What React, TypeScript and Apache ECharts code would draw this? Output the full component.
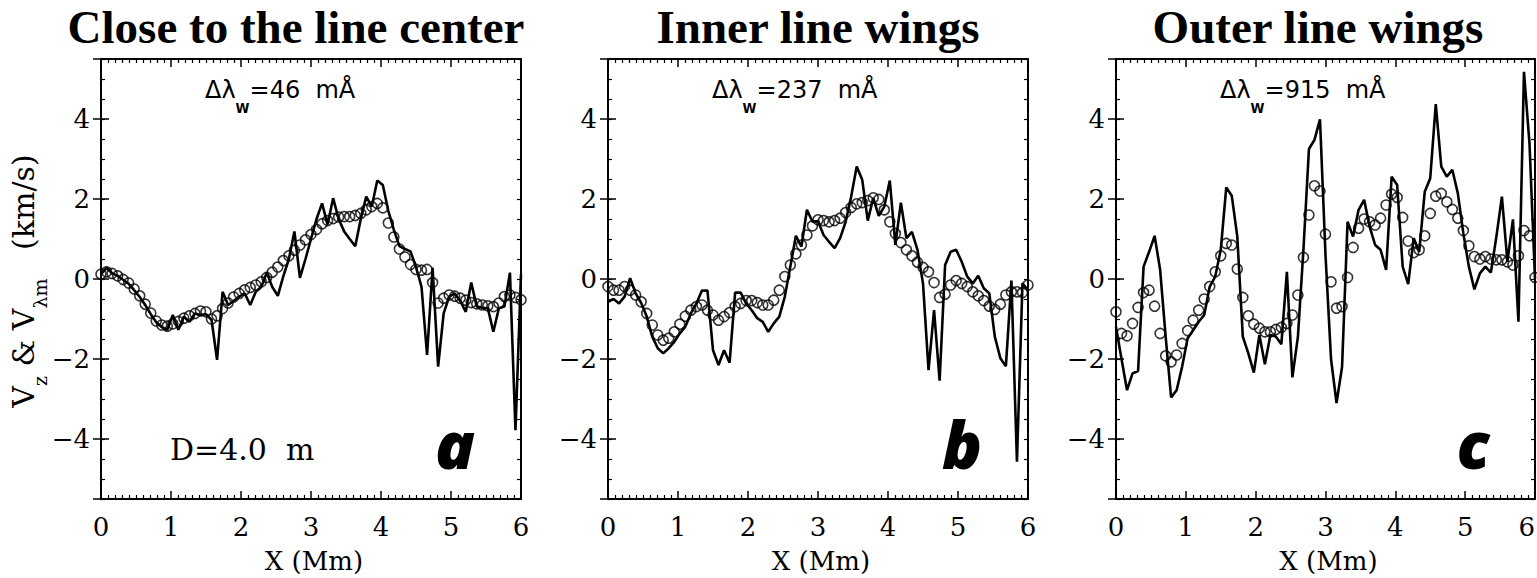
import React, { useEffect, useRef } from "react";
import * as echarts from "echarts";

// Sample positions along the slit (Mm)
const X_MM = [
  0, 0.079, 0.158, 0.237, 0.316, 0.395, 0.474, 0.553, 0.632, 0.711,
  0.789, 0.868, 0.947, 1.026, 1.105, 1.184, 1.263, 1.342, 1.421, 1.5,
  1.579, 1.658, 1.737, 1.816, 1.895, 1.974, 2.053, 2.132, 2.211, 2.289,
  2.368, 2.447, 2.526, 2.605, 2.684, 2.763, 2.842, 2.921, 3.0, 3.079,
  3.158, 3.237, 3.316, 3.395, 3.474, 3.553, 3.632, 3.711, 3.789, 3.868,
  3.947, 4.026, 4.105, 4.184, 4.263, 4.342, 4.421, 4.5, 4.579, 4.658,
  4.737, 4.816, 4.895, 4.974, 5.053, 5.132, 5.211, 5.289, 5.368, 5.447,
  5.526, 5.605, 5.684, 5.763, 5.842, 5.921, 6.0,
];

// Panel a: close to the line center (dlw = 46 mA)
const CENTER_VZ = [
  0.12, 0.28, 0.14, 0.08, -0.02, -0.12, -0.28, -0.45, -0.65, -0.88,
  -1.08, -1.2, -1.27, -0.9, -1.27, -0.94, -1.07, -0.86, -0.9, -0.88,
  -1.02, -2.02, -0.32, -0.65, -0.55, -0.44, -0.36, -0.65, -0.32, -0.2,
  0.16, -0.2, -0.42, 0.07, 0.5, 1.19, 0.03, 0.5, 1.0, 1.5,
  1.89, 1.36, 2.02, 1.5, 1.19, 1.0, 0.82, 1.5, 2.06, 1.81,
  2.46, 2.35, 1.7, 1.23, 0.82, 0.75, 0.69, 0.3, -0.2, -1.9,
  0.28, -2.19, -0.86, -0.44, -0.36, -0.55, -0.82, -0.09, -0.69, -0.72,
  -0.73, -1.32, -0.73, -0.69, 0.16, -3.78, 0.12,
];
const CENTER_VLM = [
  0.12, 0.18, 0.14, 0.08, -0.01, -0.1, -0.25, -0.42, -0.63, -0.85,
  -1.05, -1.15, -1.18, -1.12, -1.06, -0.98, -0.92, -0.86, -0.8, -0.82,
  -1.0, -0.92, -0.74, -0.6, -0.45, -0.36, -0.27, -0.21, -0.15, -0.07,
  0.04, 0.17, 0.3, 0.46, 0.58, 0.72, 0.85, 0.98, 1.11, 1.24,
  1.38, 1.46, 1.51, 1.55, 1.56, 1.56, 1.59, 1.64, 1.73, 1.81,
  1.89, 1.78, 1.4, 1.05, 0.75, 0.55, 0.36, 0.24, 0.22, 0.24,
  -0.09, -0.6, -0.48, -0.4, -0.43, -0.48, -0.53, -0.59, -0.62, -0.65,
  -0.67, -0.69, -0.6, -0.44, -0.4, -0.46, -0.52,
];

// Panel b: inner line wings (dlw = 237 mA)
const INNER_VZ = [
  -0.57, -0.5, -0.61, -0.44, 0.02, -0.36, -0.6, -0.94, -1.44, -1.73,
  -1.86, -1.73, -1.57, -1.36, -1.19, -0.86, -0.61, -0.29, -0.29, -1.78,
  -2.15, -1.78, -2.09, -0.34, -0.34, -0.61, -0.78, -0.98, -1.07, -1.32,
  -1.11, -0.94, -0.44, 0.31, 1.08, 0.81, 1.73, 1.43, 1.45, 1.1,
  0.93, 0.77, 1.02, 1.43, 2.06, 2.81, 2.48, 1.46, 2.02, 1.58,
  1.81, 2.46, 0.85, 1.91, 1.02, 1.18, 0.73, -0.11, -2.28, -0.78,
  -2.54, 0.35, 0.68, 0.73, 0.43, 0.06, -0.11, 0.08, -0.23, -0.36,
  -1.44, -1.98, -2.18, -0.04, -4.57, -0.11, -0.28,
];
const INNER_VLM = [
  -0.19, -0.28, -0.28, -0.19, -0.28, -0.4, -0.57, -0.86, -1.15, -1.4,
  -1.53, -1.48, -1.32, -1.13, -0.93, -0.78, -0.69, -0.65, -0.78, -0.9,
  -1.03, -0.94, -0.84, -0.69, -0.61, -0.54, -0.54, -0.59, -0.65, -0.65,
  -0.53, -0.28, 0.06, 0.35, 0.63, 0.85, 1.1, 1.33, 1.48, 1.46,
  1.43, 1.46, 1.52, 1.66, 1.79, 1.88, 1.91, 1.96, 2.03, 1.99,
  1.73, 1.43, 1.14, 0.91, 0.73, 0.58, 0.42, 0.29, 0.18, -0.09,
  -0.46, -0.38, -0.15, -0.04, -0.11, -0.19, -0.32, -0.42, -0.54, -0.68,
  -0.76, -0.63, -0.4, -0.32, -0.32, -0.34, -0.15,
];

// Panel c: outer line wings (dlw = 915 mA)
const OUTER_VZ = [
  -1.2, -2.0, -2.78, -2.36, -2.3, 0.31, 0.68, 1.08, 0.23, -1.44,
  -2.96, -2.78, -2.19, -1.48, -1.28, -1.07, -0.9, -0.19, 0.06, 0.73,
  2.29, 2.08, 1.06, -1.44, -1.86, -2.34, -1.4, -2.13, -1.4, -1.44,
  -1.63, 0.18, -2.46, -1.44, 0.73, 3.25, 3.48, 3.99, 0.6, -2.0,
  -3.1, -2.2, 1.43, 1.06, 1.73, 1.98, 1.31, 0.85, 0.73, 0.23,
  2.56, 2.35, 0.31, -0.13, 1.02, 0.68, 2.18, 2.52, 4.37, 2.81,
  2.56, 2.73, 2.14, 1.14, 0.31, -0.26, 0.14, 0.31, 0.16, 1.06,
  2.06, 0.43, 1.49, -1.07, 5.18, 3.39, 0.0,
];
const OUTER_VLM = [
  -0.82, -1.36, -1.42, -1.11, -0.71, -0.34, -0.28, -0.68, -1.36, -1.92,
  -2.07, -1.9, -1.61, -1.29, -1.03, -0.78, -0.5, -0.19, 0.18, 0.58,
  0.89, 0.85, 0.25, -0.46, -0.92, -1.13, -1.23, -1.32, -1.32, -1.26,
  -1.21, -1.11, -0.9, -0.4, 0.54, 1.6, 2.33, 2.2, 1.12, -0.07,
  -0.73, -0.69, 0.04, 0.79, 1.27, 1.5, 1.43, 1.35, 1.52, 1.85,
  2.12, 2.04, 1.54, 0.95, 0.66, 0.73, 1.08, 1.64, 2.07, 2.14,
  1.93, 1.74, 1.52, 1.21, 0.83, 0.56, 0.5, 0.56, 0.5, 0.48,
  0.48, 0.43, 0.35, 0.58, 1.21, 1.08, 0.04,
];

const PANEL_TITLES = ["Close to the line center", "Inner line wings", "Outer line wings"];
const DELTA_LAMBDA = ["46", "237", "915"];
const PANEL_LETTERS = ["a", "b", "c"];
const LINE_SERIES = [CENTER_VZ, INNER_VZ, OUTER_VZ];
const CIRCLE_SERIES = [CENTER_VLM, INNER_VLM, OUTER_VLM];

// Layout
const PANEL_LEFT = [101, 608, 1116];
const PANEL_WIDTH = [420, 420, 419];
const PANEL_TOP = 59;
const PANEL_HEIGHT = 440;
const TITLE_X = [296, 818, 1318];
const DL_X = [205, 712, 1220];
const LETTER_X = [455, 962, 1473];

const SERIF = "DejaVu Serif";
const BLACK = "#000";

function buildOption() {
  const grid: any[] = [];
  const xAxis: any[] = [];
  const yAxis: any[] = [];
  const series: any[] = [];
  const graphic: any[] = [];

  const axisLine = { show: true, onZero: false, lineStyle: { color: BLACK, width: 2 } };

  for (let p = 0; p < 3; p++) {
    grid.push({
      left: PANEL_LEFT[p],
      top: PANEL_TOP,
      width: PANEL_WIDTH[p],
      height: PANEL_HEIGHT,
      containLabel: false,
      outerBoundsMode: "none",
    });

    const xBase = {
      gridIndex: p,
      type: "value",
      min: 0,
      max: 6,
      interval: 1,
      axisLine,
      axisTick: { show: true, inside: true, length: 8, lineStyle: { color: BLACK, width: 1.5 } },
      minorTick: { show: true, splitNumber: 10, length: 4, lineStyle: { color: BLACK, width: 1.2 } },
      splitLine: { show: false },
      minorSplitLine: { show: false },
    };
    xAxis.push({
      ...xBase,
      position: "bottom",
      axisLabel: {
        show: true,
        color: BLACK,
        fontFamily: SERIF,
        fontSize: 26,
        margin: 15,
        alignMaxLabel: p === 2 ? "right" : undefined,
      },
    });
    xAxis.push({ ...xBase, position: "top", axisLabel: { show: false } });

    const yCommon = {
      gridIndex: p,
      type: "value",
      min: -5.5,
      max: 5.5,
      splitLine: { show: false },
    };
    // short ticks every 0.5
    const yMinor = {
      ...yCommon,
      interval: 0.5,
      axisLine,
      axisTick: { show: true, inside: true, length: 4, lineStyle: { color: BLACK, width: 1.2 } },
      axisLabel: { show: false },
    };
    // long ticks at the nice values (-4..4 step 2)
    const yMajor = {
      ...yCommon,
      splitNumber: 5,
      axisLine: { show: false },
      axisTick: { show: true, inside: true, length: 8, lineStyle: { color: BLACK, width: 1.5 } },
    };
    yAxis.push({ ...yMinor, position: "left" });
    yAxis.push({
      ...yMajor,
      position: "left",
      axisLabel: {
        show: true,
        showMinLabel: false,
        showMaxLabel: false,
        color: BLACK,
        fontFamily: SERIF,
        fontSize: 26,
        margin: 11,
        formatter: (v: number) =>
          Math.abs(v) > 5 ? "" : String(v).replace("-", "\u2212"),
      },
    });
    yAxis.push({ ...yMinor, position: "right" });
    yAxis.push({ ...yMajor, position: "right", axisLabel: { show: false } });

    series.push({
      type: "line",
      xAxisIndex: 2 * p,
      yAxisIndex: 4 * p,
      data: X_MM.map((x, i) => [x, LINE_SERIES[p][i]]),
      showSymbol: false,
      symbol: "none",
      lineStyle: { color: BLACK, width: 2.6 },
      silent: true,
      z: 2,
    });
    series.push({
      type: "scatter",
      xAxisIndex: 2 * p,
      yAxisIndex: 4 * p,
      data: X_MM.map((x, i) => [x, CIRCLE_SERIES[p][i]]),
      symbol: "circle",
      symbolSize: 10,
      itemStyle: { color: "rgba(0,0,0,0)", borderColor: BLACK, borderWidth: 1.6 },
      silent: true,
      z: 3,
    });

    graphic.push({
      type: "text",
      x: TITLE_X[p],
      y: 27,
      style: {
        text: PANEL_TITLES[p],
        fontFamily: "Liberation Serif",
        fontWeight: "bold",
        fontSize: 47,
        fill: BLACK,
        align: "center",
        verticalAlign: "middle",
      },
    });
    graphic.push({
      type: "text",
      x: DL_X[p],
      y: 90,
      style: {
        text: `{m|\u0394\u03bb}{s|W}{m|=${DELTA_LAMBDA[p]}  m\u00c5}`,
        align: "left",
        verticalAlign: "middle",
        rich: {
          m: { fontFamily: "DejaVu Sans", fontSize: 24, lineHeight: 50, verticalAlign: "middle", fill: BLACK },
          s: { fontFamily: "DejaVu Sans Condensed, DejaVu Sans", fontWeight: "bold", fontSize: 14, lineHeight: 14, verticalAlign: "bottom", fill: BLACK },
        },
      },
    });
    graphic.push({
      type: "text",
      x: LETTER_X[p],
      y: 443,
      style: {
        text: PANEL_LETTERS[p],
        fontFamily: "Open Sans",
        fontStyle: "italic",
        fontWeight: 800,
        fontSize: 66,
        fill: BLACK,
        align: "center",
        verticalAlign: "middle",
      },
    });
    graphic.push({
      type: "text",
      x: PANEL_LEFT[p] + PANEL_WIDTH[p] / 2 + 3,
      y: 561,
      style: {
        text: "X (Mm)",
        fontFamily: SERIF,
        fontSize: 26,
        fill: BLACK,
        align: "center",
        verticalAlign: "middle",
      },
    });
  }

  graphic.push({
    type: "text",
    x: 170,
    y: 449,
    style: {
      text: "D=4.0  m",
      fontFamily: SERIF,
      fontSize: 30,
      fill: BLACK,
      align: "left",
      verticalAlign: "middle",
    },
  });
  graphic.push({
    type: "text",
    x: 23,
    y: 281,
    rotation: Math.PI / 2,
    style: {
      text: "{m|V}{s|z}{m| & V}{s|\u03bbm}{m|   (km/s)}",
      align: "center",
      verticalAlign: "middle",
      rich: {
        m: { fontFamily: SERIF, fontSize: 30, lineHeight: 52, verticalAlign: "middle", fill: BLACK },
        s: { fontFamily: SERIF, fontSize: 19, lineHeight: 20, verticalAlign: "bottom", fill: BLACK },
      },
    },
  });

  return {
    animation: false,
    backgroundColor: "#fff",
    grid,
    xAxis,
    yAxis,
    series,
    graphic,
  };
}

export default function App() {
  const ref = useRef<HTMLDivElement>(null);
  useEffect(() => {
    if (!ref.current) return;
    const chart = echarts.init(ref.current, undefined, { renderer: "svg" });
    chart.setOption(buildOption() as any);
    return () => chart.dispose();
  }, []);
  return (
    <div
      ref={ref}
      style={{ position: "absolute", left: 0, top: 0, width: 1537, height: 578 }}
    />
  );
}
